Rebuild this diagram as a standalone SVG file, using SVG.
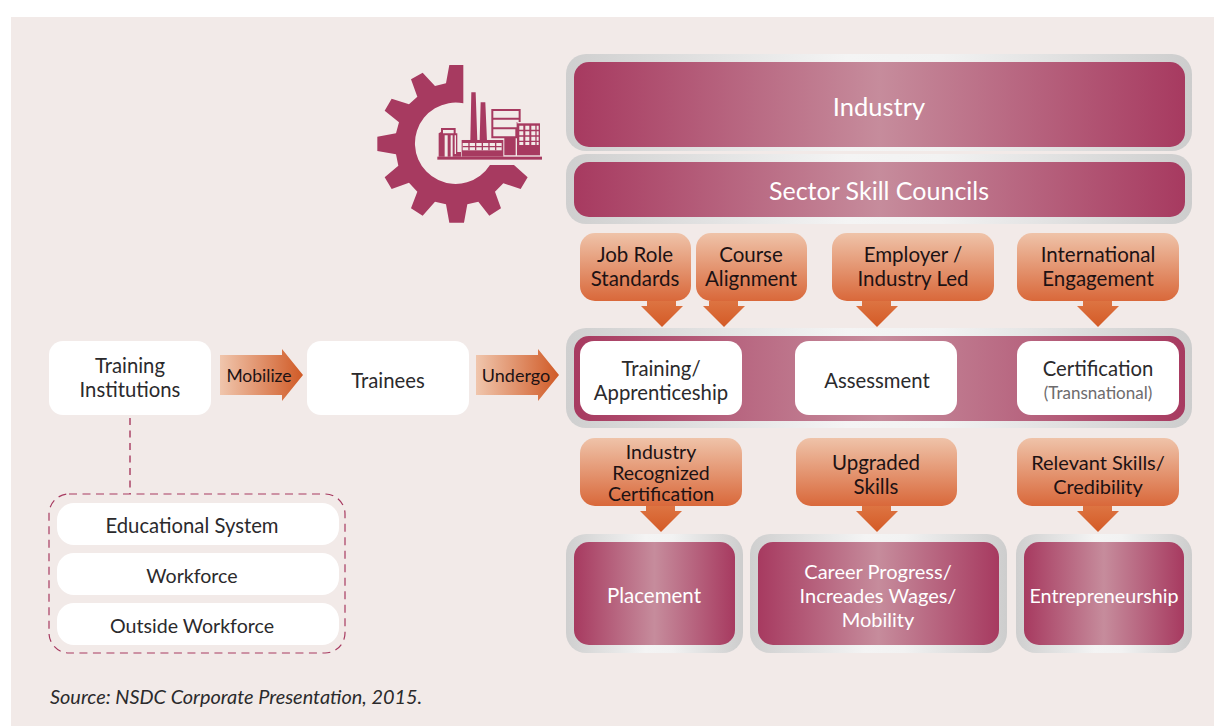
<svg xmlns="http://www.w3.org/2000/svg" width="1214" height="726" viewBox="0 0 1214 726">
<style>
text{font-family:"Lato","Open Sans",sans-serif;font-size:20.3px;fill:#2b2a2c;text-anchor:middle}
.o text,text.o{fill:#1d1214;font-size:20.5px}
.w{fill:#fff;font-size:20px}
.box{fill:#fff}
.frame{fill:url(#chrome)}
.bar{fill:url(#bar)}
.or{fill:url(#orV)}
.ar{fill:url(#orH)}
.g{fill:#a73a60}
.l{fill:#f2eae8}
</style>
<defs>
<linearGradient id="chrome" x1="0" x2="1" y1="0" y2="0"><stop offset="0" stop-color="#cfcfcf"/><stop offset=".45" stop-color="#f4f4f4"/><stop offset=".6" stop-color="#f2f2f2"/><stop offset="1" stop-color="#cdcdcd"/></linearGradient>
<linearGradient id="bar" x1="0" x2="1" y1="0" y2="0"><stop offset="0" stop-color="#a73a60"/><stop offset=".5" stop-color="#c68c9c"/><stop offset="1" stop-color="#a73a60"/></linearGradient>
<linearGradient id="orV" x1="0" x2="0" y1="0" y2="1"><stop offset="0" stop-color="#efc3a9"/><stop offset="1" stop-color="#d9683a"/></linearGradient>
<linearGradient id="arV" x1="0" x2="0" y1="0" y2="1"><stop offset="0" stop-color="#dd7442"/><stop offset="1" stop-color="#d45a26"/></linearGradient>
<linearGradient id="orH" x1="0" x2="1" y1="0" y2="0"><stop offset="0" stop-color="#f0c6ad"/><stop offset="1" stop-color="#d05a26"/></linearGradient>
<path id="dn" d="M-15 0H14V5H21L0 26L-21 5H-15Z" fill="url(#arV)"/>
<path id="rt" d="M0 0H62V-6L83 20L62 46V40H0Z" class="ar"/>
</defs>
<rect width="1214" height="726" fill="#fff"/>
<rect x="11" y="17" width="1203" height="709" fill="#f2eae8"/>

<g id="gear" transform="translate(360 50) scale(.3333)">
<path class="g" d="M310 45H268L258 100L225 108L188 68L153 88L172 140L147 163L95 146L74 182L117 217L108 250L52 260V303L108 313L115 347L74 382L95 417L147 398L172 425L153 475L188 497L225 455L258 463L268 518H312L322 463L355 455L388 497L423 475L405 425L430 400L482 417L503 382L462 345H390A122 122 0 1 1 310 160Z"/>
<rect class="g" x="232" y="320" width="314" height="9"/>
<path class="g" d="M331 272L334 127H347L352 272ZM359 272L362 157H376L381 272Z"/>
<rect class="g" x="305" y="270" width="125" height="50"/>
<rect class="l" x="308" y="279" width="117" height="22"/>
<path class="g" d="M325 279h4v22h-4zM345 279h4v22h-4zM365 279h4v22h-4zM385 279h4v22h-4zM405 279h4v22h-4zM308 288h117v4H308z"/>
<path class="g" d="M394 177H482V216H472V265H467V316H433V265H394ZM400 183V203H476V183ZM400 209V232H470V216H476V209ZM400 238V259H466V238Z"/>
<rect class="g" x="471" y="220" width="69" height="96"/>
<path class="l" d="M478 227h12v12h-12zM496 227h12v12h-12zM514 227h12v12h-12zM530 227h6v12h-6zM478 244h12v12h-12zM496 244h12v12h-12zM514 244h12v12h-12zM530 244h6v12h-6zM478 260h12v12h-12zM496 260h12v12h-12zM514 260h12v12h-12zM530 260h6v12h-6zM478 276h12v9h-12zM496 276h12v9h-12zM514 276h12v9h-12zM530 276h6v9h-6z"/>
<path class="g" d="M236 320V250L243 246V234H287V250H292V306H303V320ZM249 240V250H281V240ZM254 256V320H263V256ZM270 256H272V320H278V256ZM284 256V312H288V256Z"/>
</g>

<g id="connectors">
<path d="M130 418V494" fill="none" stroke="#a73a60" stroke-width="1.4" stroke-dasharray="7 5.5"/>
<use href="#dn" x="662" y="301"/>
<use href="#dn" x="724" y="301"/>
<use href="#dn" x="877" y="301"/>
<use href="#dn" x="1098" y="301"/>
<use href="#dn" x="661" y="506"/>
<use href="#dn" x="877" y="506"/>
<use href="#dn" x="1098" y="506"/>
<g id="mobilize"><use href="#rt" x="220" y="355"/><text x="259" y="382" class="o" style="font-size:17.5px">Mobilize</text></g>
<g id="undergo"><use href="#rt" x="476" y="355"/><text x="516" y="382" class="o" style="font-size:18px">Undergo</text></g>
</g>

<g id="industry"><rect class="frame" x="566" y="54" width="626" height="97" rx="20"/><rect class="bar" x="574" y="62" width="611" height="85" rx="15"/><text class="w" x="879" y="116" style="font-size:25.5px">Industry</text></g>
<g id="sector-skill-councils"><rect class="frame" x="566" y="154" width="626" height="70" rx="20"/><rect class="bar" x="574" y="162" width="611" height="55" rx="15"/><text class="w" x="879" y="200" style="font-size:25px">Sector Skill Councils</text></g>

<g id="job-role" class="o"><rect class="or" x="580" y="233" width="111" height="68" rx="15"/><text x="635" y="262">Job Role</text><text x="635" y="286">Standards</text></g>
<g id="course-alignment" class="o"><rect class="or" x="696" y="233" width="111" height="68" rx="15"/><text x="751" y="262">Course</text><text x="751" y="286">Alignment</text></g>
<g id="employer" class="o"><rect class="or" x="832" y="233" width="162" height="68" rx="15"/><text x="913" y="262">Employer /</text><text x="913" y="286">Industry Led</text></g>
<g id="international" class="o"><rect class="or" x="1017" y="233" width="162" height="68" rx="15"/><text x="1098" y="262">International</text><text x="1098" y="286">Engagement</text></g>

<g id="process"><rect class="frame" x="566" y="328" width="626" height="100" rx="20"/><rect class="bar" x="574" y="336" width="611" height="85" rx="15"/></g>
<g id="training"><rect class="box" x="580" y="341" width="162" height="74" rx="14"/><text x="661" y="376">Training/</text><text x="661" y="400">Apprenticeship</text></g>
<g id="assessment"><rect class="box" x="795" y="341" width="162" height="74" rx="14"/><text x="877" y="388">Assessment</text></g>
<g id="certification"><rect class="box" x="1017" y="341" width="162" height="74" rx="14"/><text x="1098" y="376">Certification</text><text x="1098" y="399" style="font-size:17px;fill:#6d6b6d">(Transnational)</text></g>

<g id="training-institutions"><rect class="box" x="49" y="341" width="162" height="74" rx="14"/><text x="130" y="373">Training</text><text x="130" y="397">Institutions</text></g>
<g id="trainees"><rect class="box" x="307" y="341" width="162" height="74" rx="14"/><text x="388" y="388">Trainees</text></g>

<g id="pool"><rect x="49" y="494" width="296" height="159" rx="20" fill="none" stroke="#a73a60" stroke-width="1.2" stroke-dasharray="8 5.5"/></g>
<g id="educational-system"><rect class="box" x="57" y="503" width="282" height="42" rx="17"/><text x="192" y="533">Educational System</text></g>
<g id="workforce"><rect class="box" x="57" y="553" width="282" height="42" rx="17"/><text x="192" y="583" style="font-size:19.6px">Workforce</text></g>
<g id="outside-workforce"><rect class="box" x="57" y="603" width="282" height="42" rx="17"/><text x="192" y="633" style="font-size:19.6px">Outside Workforce</text></g>

<g id="industry-recognized" class="o"><rect class="or" x="580" y="438" width="162" height="68" rx="15"/><text x="661" y="459" style="font-size:19.5px">Industry</text><text x="661" y="480" style="font-size:19.5px">Recognized</text><text x="661" y="501" style="font-size:19.5px">Certification</text></g>
<g id="upgraded-skills" class="o"><rect class="or" x="796" y="438" width="161" height="68" rx="15"/><text x="876" y="470">Upgraded</text><text x="876" y="494">Skills</text></g>
<g id="relevant-skills" class="o"><rect class="or" x="1017" y="438" width="162" height="68" rx="15"/><text x="1098" y="470" style="font-size:20px">Relevant Skills/</text><text x="1098" y="494" style="font-size:20px">Credibility</text></g>

<g id="placement"><rect class="frame" x="566" y="534" width="177" height="119" rx="20"/><rect class="bar" x="574" y="542" width="161" height="103" rx="15"/><text class="w" x="654" y="603" style="font-size:20.5px">Placement</text></g>
<g id="career"><rect class="frame" x="750" y="534" width="257" height="119" rx="20"/><rect class="bar" x="758" y="542" width="241" height="103" rx="15"/><text class="w" x="878" y="579">Career Progress/</text><text class="w" x="878" y="603">Increades Wages/</text><text class="w" x="878" y="627">Mobility</text></g>
<g id="entrepreneurship"><rect class="frame" x="1016" y="534" width="176" height="119" rx="20"/><rect class="bar" x="1024" y="542" width="160" height="103" rx="15"/><text class="w" x="1104" y="603" style="font-size:19.7px">Entrepreneurship</text></g>

<text x="50" y="704" style="text-anchor:start;font-style:italic;font-size:19.9px">Source: NSDC Corporate Presentation, 2015.</text>
</svg>
